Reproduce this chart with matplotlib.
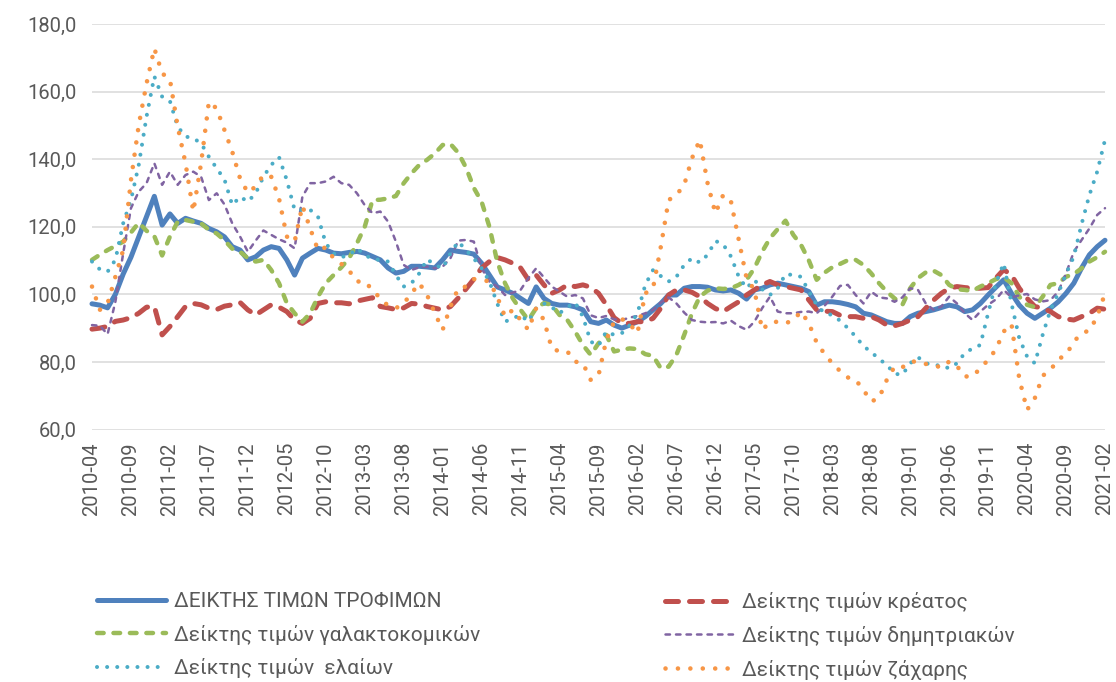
import numpy as np
import pandas as pd
import matplotlib
matplotlib.use("Agg")
import matplotlib.pyplot as plt

plt.rcParams['font.family'] = ['Roboto', 'DejaVu Sans']

# monthly categories 2010-04 .. 2021-02
months = pd.period_range("2010-04", "2021-02", freq="M").strftime("%Y-%m").tolist()

food = [97.2, 96.8, 96.0, 100.0, 106.0, 111.0, 117.0, 123.0, 129.0, 120.5, 123.8, 121.0, 122.5, 121.7, 121.0, 119.5, 118.5, 117.0,
        114.1, 113.1, 110.2, 111.1, 113.1, 114.1, 113.6, 110.2, 105.7, 110.7, 112.2, 113.6, 113.1, 112.2, 112.0, 112.4,
        112.7, 112.2, 111.2, 110.2, 107.8, 106.3, 106.8, 108.3, 108.3, 108.1, 107.8, 110.2, 113.1, 112.7,
        112.4, 111.9, 109.2, 105.7, 102.2, 101.3, 100.3, 98.8, 97.3, 102.2, 98.8, 97.3, 96.8, 96.8, 96.3, 95.4,
        91.9, 91.4, 92.4, 90.9, 90.0, 90.9, 91.9, 93.4, 95.4, 97.3, 99.8, 99.8, 101.8, 102.3, 102.3, 102.1,
        101.3, 101.0, 101.3, 100.3, 98.6, 101.3, 101.8, 102.8, 103.3, 102.8, 102.3, 101.8, 100.8, 96.8, 97.8, 97.8,
        97.5, 97.0, 96.3, 94.4, 93.9, 92.9, 91.9, 91.4, 91.4, 93.4, 94.4, 94.9, 95.4, 96.1, 96.8, 96.3, 94.9,
        95.4, 97.3, 99.8, 102.1, 104.3, 100.3, 96.8, 94.4, 92.9, 94.4, 95.9, 97.8, 100.3, 103.3, 107.8, 111.7, 114.1, 116.0]

meat = [89.7, 90.0, 90.5, 92.0, 92.4, 93.1, 94.4, 96.2, 96.4, 88.0, 90.5, 93.4, 96.4, 97.3, 96.9, 95.9, 95.5, 96.5,
        96.9, 97.6, 95.4, 93.9, 95.4, 96.9, 96.2, 94.9, 92.4, 91.4, 92.9, 97.3, 97.8, 97.5, 97.5, 97.2,
        98.0, 98.5, 99.0, 96.4, 96.0, 95.5, 96.0, 97.3, 97.1, 96.4, 95.9, 95.4, 96.4, 98.9,
        101.6, 104.5, 107.8, 109.7, 110.9, 110.2, 109.2, 107.8, 104.3, 105.7, 102.8, 100.3, 101.3, 102.8, 102.3, 102.8,
        102.1, 100.3, 96.9, 93.1, 91.4, 91.4, 91.9, 91.9, 92.9, 95.9, 99.8, 101.3, 101.3, 100.6, 99.3, 97.3,
        95.8, 94.9, 96.4, 97.8, 99.8, 101.3, 102.8, 103.8, 102.8, 102.3, 101.8, 101.3, 98.3, 95.4, 95.0, 94.9,
        93.8, 93.4, 93.4, 92.9, 93.4, 92.4, 90.9, 90.7, 91.4, 92.4, 93.4, 95.9, 98.3, 100.3, 101.8, 102.3, 102.0,
        101.8, 101.8, 102.0, 104.8, 107.3, 105.7, 101.8, 98.8, 96.4, 95.9, 94.9, 93.4, 92.7, 92.4, 93.4, 94.4, 95.9, 95.6]

dairy = [110.2, 111.7, 113.1, 114.3, 115.6, 118.3, 121.2, 118.8, 117.2, 111.5, 117.1, 121.5, 122.0, 121.5, 121.0, 119.1, 118.0, 116.0,
         113.5, 112.6, 110.7, 109.7, 110.2, 107.2, 103.3, 97.4, 94.4, 91.9, 94.4, 99.3, 103.3, 105.7, 108.0, 110.7,
         115.1, 120.0, 127.9, 128.0, 128.4, 129.1, 132.9, 135.8, 138.3, 139.8, 141.7, 144.2, 144.5, 141.9,
         137.5, 131.5, 127.4, 120.0, 109.7, 103.3, 98.8, 95.4, 92.4, 95.9, 97.4, 96.9, 93.9, 92.4, 89.0, 85.0,
         82.1, 85.5, 88.0, 83.1, 83.6, 84.0, 83.8, 82.3, 81.8, 78.1, 78.6, 82.1, 88.0, 94.4, 99.3, 101.1,
         101.8, 101.6, 101.8, 102.8, 104.3, 107.7, 112.6, 116.6, 119.3, 121.8, 117.6, 114.6, 110.0, 104.3, 106.4, 108.0,
         109.0, 110.1, 110.2, 108.7, 106.2, 103.3, 100.8, 98.8, 96.9, 101.8, 104.8, 106.5, 107.0, 105.7, 102.8, 101.5, 101.3,
         101.0, 102.3, 103.3, 104.5, 105.0, 103.3, 99.3, 96.9, 96.2, 99.3, 102.8, 103.3, 105.2, 106.0, 107.7, 109.7, 111.0, 112.6]

cereals = [90.9, 90.7, 88.2, 97.8, 112.1, 125.5, 130.4, 132.9, 138.8, 132.4, 136.3, 132.4, 135.3, 136.3, 134.8, 127.9, 129.9, 126.6,
           121.0, 117.1, 112.6, 115.9, 118.9, 117.6, 116.3, 115.3, 113.6, 128.9, 132.9, 132.9, 133.4, 134.8, 132.9, 132.4,
           129.9, 126.4, 124.0, 124.5, 121.5, 115.6, 108.7, 107.2, 108.0, 108.2, 107.7, 108.2, 110.7, 115.9,
           116.1, 115.6, 107.7, 103.8, 102.3, 99.8, 100.5, 101.3, 104.8, 107.7, 105.0, 102.3, 100.8, 99.3, 99.8, 98.8,
           93.8, 93.0, 93.6, 92.6, 92.4, 93.1, 93.6, 94.4, 95.4, 97.6, 99.1, 97.3, 94.6, 92.4, 91.9, 91.7,
           91.8, 91.4, 92.2, 90.6, 89.5, 91.9, 95.9, 99.3, 94.9, 94.4, 94.4, 94.8, 94.9, 94.4, 96.6, 99.3,
           102.5, 102.8, 99.8, 97.3, 100.8, 99.1, 98.8, 97.8, 99.1, 101.8, 101.3, 97.3, 95.4, 96.4, 99.3, 97.3, 94.4,
           92.4, 94.9, 96.9, 98.5, 101.3, 99.1, 99.7, 100.1, 98.5, 97.9, 98.3, 100.8, 106.2, 112.6, 116.1, 119.5, 123.5, 125.5]

oils = [109.7, 107.4, 106.7, 110.2, 121.0, 127.9, 138.3, 152.6, 164.5, 158.5, 157.2, 149.6, 146.7, 146.2, 144.7, 140.7, 137.3, 134.0,
        126.4, 128.9, 127.4, 129.9, 134.8, 138.3, 140.6, 133.8, 125.0, 125.0, 125.0, 123.0, 115.1, 112.1, 111.0, 111.6,
        113.6, 111.7, 110.4, 110.2, 109.7, 105.7, 102.3, 103.3, 106.2, 110.4, 108.7, 107.7, 112.1, 115.6,
        113.1, 110.6, 107.7, 103.8, 97.3, 91.9, 92.9, 93.9, 91.9, 95.9, 97.3, 96.2, 94.4, 96.2, 97.6, 93.4,
        86.0, 84.8, 89.0, 88.0, 88.5, 90.9, 94.4, 102.8, 107.2, 105.4, 103.8, 105.2, 108.7, 110.7, 109.4, 111.7,
        115.8, 114.8, 111.2, 105.2, 101.8, 104.3, 101.5, 99.8, 101.8, 106.0, 105.7, 105.2, 100.8, 96.9, 94.4, 93.9,
        92.2, 90.0, 87.5, 84.7, 82.9, 80.9, 79.1, 76.5, 76.2, 79.6, 81.4, 79.6, 79.1, 78.9, 78.1, 79.6, 82.6,
        84.0, 85.0, 94.4, 103.3, 109.2, 97.3, 87.0, 81.6, 79.6, 88.0, 95.4, 100.3, 106.0, 111.2, 120.8, 129.4, 136.3, 145.7]

sugar = [102.3, 95.4, 97.3, 105.2, 113.1, 133.8, 150.1, 162.4, 172.8, 165.4, 163.6, 149.6, 138.8, 124.5, 138.8, 157.0, 155.0, 148.6,
         142.2, 134.3, 130.1, 131.9, 135.3, 134.8, 128.4, 117.1, 115.6, 126.2, 119.5, 113.1, 113.9, 110.7, 109.0, 107.0,
         103.8, 103.8, 101.3, 98.8, 96.6, 95.9, 97.3, 100.3, 103.3, 99.8, 94.4, 89.5, 96.4, 101.8,
         102.3, 104.5, 104.3, 103.8, 99.3, 93.4, 95.4, 92.4, 89.5, 95.9, 92.4, 84.0, 83.1, 83.1, 80.1, 79.6,
         74.7, 76.0, 86.5, 91.9, 92.7, 91.2, 88.5, 100.3, 101.8, 114.1, 127.9, 129.4, 132.4, 140.3, 145.7, 132.9,
         124.0, 129.4, 127.5, 116.1, 104.8, 101.3, 89.5, 91.7, 91.9, 91.4, 92.4, 94.9, 91.4, 85.7, 82.4, 79.6,
         77.3, 75.4, 74.7, 71.7, 68.3, 69.3, 74.7, 78.6, 78.4, 80.1, 80.1, 79.4, 79.1, 78.3, 80.1, 78.8, 75.7,
         75.7, 78.1, 80.6, 83.7, 89.0, 91.2, 75.0, 65.8, 69.3, 75.9, 77.6, 80.8, 82.1, 86.0, 88.5, 89.3, 93.4, 100.3]

labels = ["ΔΕΙΚΤΗΣ ΤΙΜΩΝ ΤΡΟΦΙΜΩΝ", "Δείκτης τιμών κρέατος", "Δείκτης τιμών γαλακτοκομικών",
          "Δείκτης τιμών δημητριακών", "Δείκτης τιμών  ελαίων", "Δείκτης τιμών ζάχαρης"]

W, H = 1116, 682
fig = plt.figure(figsize=(W / 100, H / 100), dpi=100)
ax = fig.add_axes([92 / W, 1 - 429.5 / H, (1105 - 92) / W, (429.5 - 24) / H])

x = np.arange(len(months))
styles = [
    dict(color='#4F81BD', lw=3.6, ls='-', solid_capstyle='round'),
    dict(color='#C0504D', lw=3.6, dashes=(2.6, 2.2), dash_capstyle='round'),
    dict(color='#9BBB59', lw=3.2, dashes=(1.5, 2.2), dash_capstyle='round'),
    dict(color='#8064A2', lw=1.8, dashes=(1.8, 2.4), dash_capstyle='round'),
    dict(color='#4BACC6', lw=2.9, dashes=(0.01, 2.5), dash_capstyle='round'),
    dict(color='#F79646', lw=3.3, dashes=(0.01, 2.7), dash_capstyle='round'),
]
series = [food, meat, dairy, cereals, oils, sugar]

handles = []
for i, (vals, st, lab) in enumerate(zip(series, styles, labels)):
    ln, = ax.plot(x, vals, label=lab, solid_joinstyle='round', dash_joinstyle='round',
                  zorder=3 + i, clip_on=False, **st)
    handles.append(ln)

ax.set_xlim(0, len(months) - 1)
ax.set_ylim(60, 180)
ax.set_yticks(np.arange(60, 181, 20))
ax.set_yticklabels([f"{v:.1f}".replace('.', ',') for v in np.arange(60, 181, 20)])
ax.set_xticks(x[::5])
ax.set_xticklabels(months[::5], rotation=90)
ax.tick_params(axis='both', length=0, labelsize=14.5, colors='#595959')
ax.tick_params(axis='y', pad=11)
ax.tick_params(axis='x', pad=9)
ax.grid(axis='y', color='#D9D9D9', lw=1.1)
ax.set_axisbelow(True)
for s in ax.spines.values():
    s.set_visible(False)

leg_kw = dict(loc='upper left', frameon=False, fontsize=15, handlelength=3.3,
              handletextpad=0.38, labelspacing=0.66, borderpad=0, borderaxespad=0,
              labelcolor='#595959')
left = fig.legend([handles[0], handles[2], handles[4]], [labels[0], labels[2], labels[4]],
                  bbox_to_anchor=(97 / W, 1 - 592 / H), **leg_kw)
right = fig.legend([handles[1], handles[3], handles[5]], [labels[1], labels[3], labels[5]],
                   bbox_to_anchor=(665 / W, 1 - 592 / H), **leg_kw)

fig.savefig("out.png", dpi=100)
